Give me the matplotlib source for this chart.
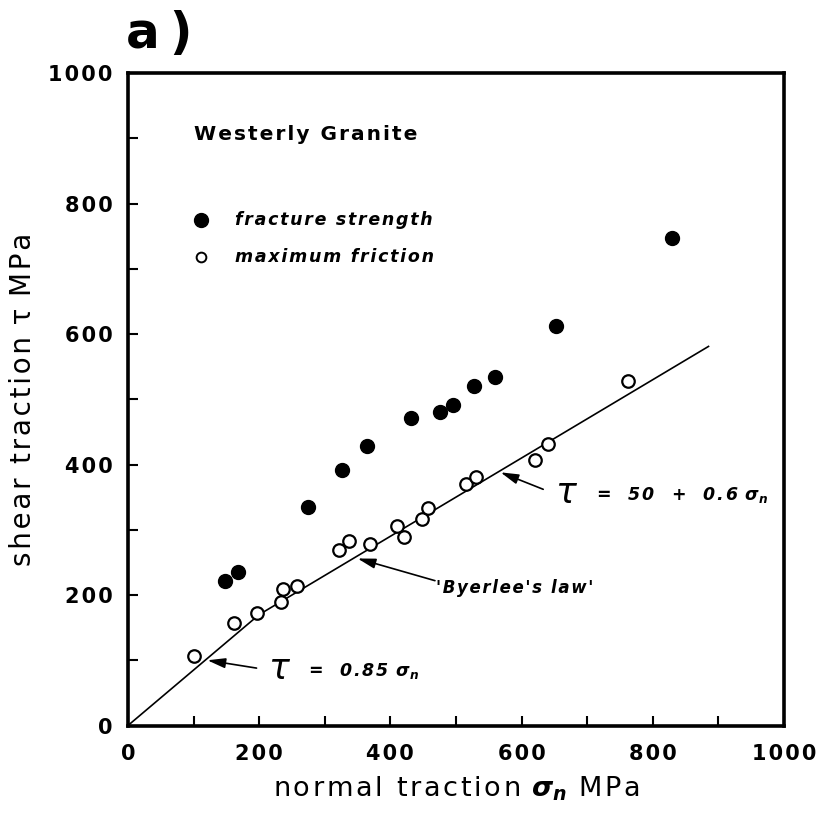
import numpy as np
import matplotlib
matplotlib.use('Agg')
import matplotlib.pyplot as plt
from matplotlib.ticker import MultipleLocator, FuncFormatter

plt.rcParams['font.family'] = ['DejaVu Sans']
plt.rcParams['mathtext.fontset'] = 'custom'
plt.rcParams['mathtext.it'] = 'DejaVu Sans:italic:bold'
plt.rcParams['mathtext.rm'] = 'DejaVu Sans:bold'

# fracture strength (filled) and maximum friction (open), MPa
frac_sn = [148, 168, 274, 327, 364, 431, 475, 496, 528, 559, 653, 830]
frac_tau = [222, 235, 335, 392, 428, 472, 481, 491, 521, 534, 612, 747]

fric_sn = [100, 162, 197, 233, 236, 257, 321, 337, 369, 410, 421, 448, 458,
           515, 531, 620, 641, 762]
fric_tau = [107, 157, 172, 190, 209, 214, 269, 283, 278, 306, 289, 316, 334,
            370, 381, 407, 431, 528]

# Byerlee's law: tau = 0.85 sn below 200 MPa, tau = 50 + 0.6 sn above
law_sn = np.array([0, 200, 885])
law_tau = np.where(law_sn <= 200, 0.85 * law_sn, 50 + 0.6 * law_sn)


def spread(s):
    # open up the letter spacing a little
    return '\u200a'.join(s)


fig = plt.figure(figsize=(8.24, 8.14), dpi=100)
ax = fig.add_axes([0.1553, 0.1087, 0.7961, 0.8016])

ax.plot(law_sn, law_tau, '-k', linewidth=1.2, zorder=2)
ax.plot(frac_sn, frac_tau, 'o', color='k', markersize=10, zorder=3)
ax.plot(fric_sn, fric_tau, 'o', markerfacecolor='white', markeredgecolor='k',
        markeredgewidth=1.6, markersize=9, zorder=3)

ax.set_xlim(0, 1000)
ax.set_ylim(0, 1000)
ax.xaxis.set_major_locator(MultipleLocator(200))
ax.yaxis.set_major_locator(MultipleLocator(200))
ax.xaxis.set_minor_locator(MultipleLocator(100))
ax.yaxis.set_minor_locator(MultipleLocator(100))
ticklab = FuncFormatter(lambda v, pos: spread('%d' % v))
ax.xaxis.set_major_formatter(ticklab)
ax.yaxis.set_major_formatter(ticklab)
ax.tick_params(which='both', direction='in', length=7, width=1.5,
               top=False, right=False)
ax.tick_params(which='major', labelsize=15)
ax.tick_params(axis='x', which='major', pad=13)
ax.tick_params(axis='y', which='major', pad=11)
for lab in ax.get_xticklabels() + ax.get_yticklabels():
    lab.set_fontweight('bold')
for s in ax.spines.values():
    s.set_linewidth(2.6)

ax.set_xlabel(spread('normal traction ') + r'$\sigma_n$' + spread(' MPa'),
              fontsize=19.5, labelpad=8)
ax.set_ylabel(spread('shear traction ') + '\u03c4' + spread(' MPa'),
              fontsize=20, labelpad=8)

fig.text(0.153, 0.988, 'a\u2009)', fontsize=36, fontweight='bold',
         va='top', ha='left')

# key
ax.text(100, 906, spread('Westerly Granite'), fontsize=14.5, fontweight='bold',
        va='center')
ax.plot([112], [774], 'o', color='k', markersize=10)
ax.plot([112], [718], 'o', markerfacecolor='white', markeredgecolor='k',
        markeredgewidth=1.4, markersize=7)
ax.text(163, 774, spread('fracture strength'), fontsize=12.5, fontweight='bold',
        style='italic', va='center')
ax.text(163, 718, spread('maximum friction'), fontsize=12.5, fontweight='bold',
        style='italic', va='center')

arrow = dict(arrowstyle='-|>,head_width=0.25,head_length=0.9', lw=1.2,
             color='k', mutation_scale=12, shrinkA=0, shrinkB=0)

# upper branch label
ax.annotate('', xy=(568, 388), xytext=(633, 362), arrowprops=arrow)
ax.text(651, 357, '\u03c4', fontsize=25, style='italic', va='center', ha='left')
ax.text(714, 354, spread('=  50  +  0.6 ') + r'$\sigma_n$', fontsize=12.5,
        fontweight='bold', style='italic', va='center', ha='left')

# Byerlee's law label
ax.annotate('', xy=(350, 256), xytext=(468, 222), arrowprops=arrow)
ax.text(470, 210, spread("'Byerlee's law'"), fontsize=12, fontweight='bold',
        style='italic', va='center', ha='left')

# lower branch label
ax.annotate('', xy=(121, 100), xytext=(196, 88), arrowprops=arrow)
ax.text(214, 87, '\u03c4', fontsize=25, style='italic', va='center', ha='left')
ax.text(275, 84, spread('=  0.85 ') + r'$\sigma_n$', fontsize=12.5,
        fontweight='bold', style='italic', va='center', ha='left')

fig.savefig('out.png', dpi=100)
